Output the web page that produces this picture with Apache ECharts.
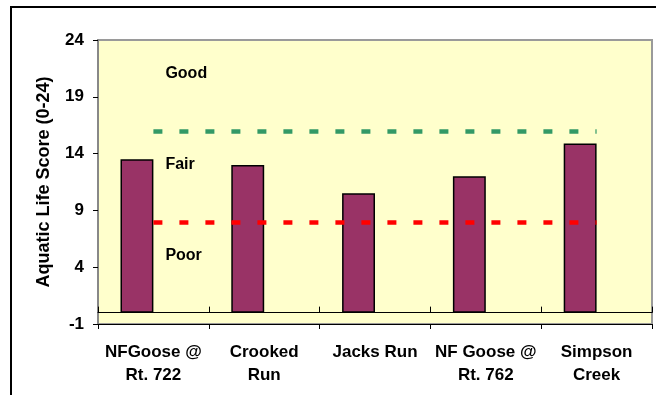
<!DOCTYPE html>
<html>
<head>
<meta charset="utf-8">
<script src="https://cdn.jsdelivr.net/npm/echarts@6/dist/echarts.min.js"></script>
<style>
html,body{margin:0;padding:0;background:#fff;}
#chart{width:656px;height:395px;}
</style>
</head>
<body>
<div id="chart"></div>
<script>
const categories = ['NFGoose @\nRt. 722', 'Crooked\nRun', 'Jacks Run', 'NF Goose @\nRt. 762', 'Simpson\nCreek'];
const scores = [13.5, 13, 10.5, 12, 14.9];
const emptySlot = [null, null, null, null, null];
const goodThreshold = 16;
const poorThreshold = 8;
const zoneLabels = ['Good', 'Fair', 'Poor'];
const zoneLabelValues = [21, 13, 5];
const yMin = -1, yMax = 24, yInterval = 5;

const FONT = '"Liberation Sans", Arial, sans-serif';
const chart = echarts.init(document.getElementById('chart'), null, {renderer: 'canvas'});

const catAxisCommon = {
  type: 'category',
  data: categories,
  boundaryGap: true,
  axisLine: {show: true, onZero: true, lineStyle: {color: '#000', width: 1}},
  splitLine: {show: false}
};

chart.setOption({
  animation: false,
  backgroundColor: '#fff',
  graphic: [{
    type: 'rect',
    shape: {x: 11, y: 7, width: 700, height: 450},
    style: {fill: 'none', stroke: '#000', lineWidth: 2},
    silent: true,
    z: -10
  }],
  grid: {
    left: 98, top: 40, right: 4, bottom: 71,
    show: true,
    backgroundColor: '#FFFFCC',
    borderColor: '#9a9a9a',
    borderWidth: 2
  },
  xAxis: [
    Object.assign({}, catAxisCommon, {
      axisTick: {show: true, inside: true, length: 6, lineStyle: {color: '#000'}},
      axisLabel: {
        show: true, margin: 17, color: '#000', fontFamily: FONT,
        fontWeight: 'bold', fontSize: 17, lineHeight: 23, interval: 0
      }
    }),
    Object.assign({}, catAxisCommon, {
      position: 'bottom',
      axisTick: {show: true, inside: false, length: 5, lineStyle: {color: '#000'}},
      axisLabel: {show: false}
    })
  ],
  yAxis: {
    type: 'value',
    min: yMin, max: yMax, interval: yInterval,
    name: 'Aquatic Life Score (0-24)',
    nameLocation: 'middle',
    nameGap: 45,
    nameTextStyle: {color: '#000', fontFamily: FONT, fontWeight: 'bold', fontSize: 18},
    axisLine: {show: true, lineStyle: {color: '#888', width: 2}},
    axisTick: {show: true, inside: false, length: 5, lineStyle: {color: '#000'}},
    axisLabel: {margin: 14, color: '#000', fontFamily: FONT, fontWeight: 'bold', fontSize: 17},
    splitLine: {show: false}
  },
  series: [
    {
      type: 'bar',
      data: scores,
      barGap: '0%',
      barCategoryGap: '40.6%',
      itemStyle: {color: '#993366', borderColor: '#000', borderWidth: 1.5},
      z: 2
    },
    {
      type: 'bar',
      data: emptySlot,
      itemStyle: {color: '#993366'}
    },
    {
      type: 'scatter',
      symbolSize: 0,
      itemStyle: {opacity: 1},
      data: zoneLabels.map((t, i) => ({value: [categories[0], zoneLabelValues[i]], name: t})),
      label: {
        show: true,
        position: 'right',
        distance: 12,
        formatter: p => p.name,
        color: '#000',
        fontFamily: FONT,
        fontWeight: 'bold',
        fontSize: 16
      },
      emphasis: {disabled: true},
      z: 6,
      markLine: {
        silent: true,
        symbol: ['none', 'none'],
        label: {show: false},
        data: [
          [{coord: [categories[0], goodThreshold], lineStyle: {color: '#339966', width: 4.5, type: [9, 17], opacity: 1}},
           {coord: [categories[categories.length - 1], goodThreshold]}],
          [{coord: [categories[0], poorThreshold], lineStyle: {color: '#FF0000', width: 4.5, type: [9, 17], opacity: 1}},
           {coord: [categories[categories.length - 1], poorThreshold]}]
        ],
        z: 5
      }
    }
  ]
});
</script>
</body>
</html>
